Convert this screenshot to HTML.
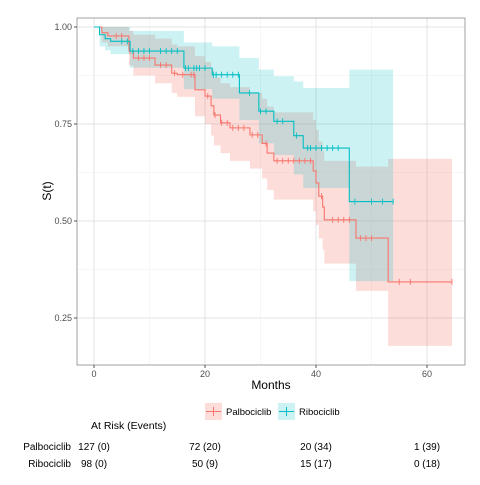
<!DOCTYPE html>
<html><head><meta charset="utf-8"><style>
body{margin:0;background:#fff;font-family:"Liberation Sans",sans-serif}
svg text{font-family:"Liberation Sans",sans-serif}
</style></head><body>
<svg id="c" width="480" height="480" viewBox="0 0 480 480"></svg>
<script>
const redT=[0,1.4,2.5,6.3,7.1,11,14,15,18.2,20,21.1,21.6,22.8,24.5,28.1,30.3,31.2,32.4,39.5,40,40.5,41.2,41.5,47.2,53];
const redS=[1,0.985,0.977,0.938,0.92,0.902,0.881,0.877,0.838,0.822,0.797,0.773,0.753,0.74,0.722,0.7,0.675,0.655,0.629,0.598,0.564,0.536,0.503,0.456,0.343];
const redU=[1,1,1,0.99,0.98,0.97,0.955,0.95,0.925,0.91,0.89,0.87,0.855,0.845,0.83,0.815,0.795,0.78,0.76,0.735,0.705,0.68,0.655,0.64,0.66];
const redL=[1,0.96,0.95,0.9,0.875,0.855,0.83,0.82,0.77,0.75,0.72,0.695,0.675,0.655,0.635,0.61,0.58,0.555,0.525,0.49,0.455,0.425,0.39,0.32,0.178];
const redEnd=64.5;
const redCens=[4,5,6.5,8,9,10,12,13,14.5,16,17.5,18,20.5,21.8,23,24,25,26,27,28.5,29.5,31,33,34,35,36,37,38,39,41,43,44,45,46,48,49,50,55,57,64.5];
const tealT=[0,1,2,3,6.5,16.2,21.3,26.2,29.7,32.4,36,37.7,46];
const tealS=[1,0.98,0.97,0.963,0.938,0.894,0.877,0.83,0.783,0.757,0.72,0.688,0.55];
const tealU=[1,1,1,1,0.99,0.96,0.95,0.92,0.89,0.873,0.86,0.843,0.89];
const tealL=[1,0.95,0.94,0.93,0.895,0.84,0.815,0.76,0.7,0.67,0.62,0.585,0.345];
const tealEnd=53.9;
const tealCens=[5,6,7,8,9,10,12,13,14,15,16.5,17,18,18.5,19,20,21.5,22,23,24,25,26,28,30,31,33,34,36.5,38.5,39,40,41,42,43,44,47,50,52,53.9];
const xTicks=[0,20,40,60];
const yTicks=[0.25,0.5,0.75,1.0];
const yTickLabels=["0.25","0.50","0.75","1.00"];
const riskTimes=[0,20,40,60];
const palbRisk=["127 (0)","72 (20)","20 (34)","1 (39)"];
const riboRisk=["98 (0)","50 (9)","15 (17)","0 (18)"];

const NS="http://www.w3.org/2000/svg";
const svg=document.getElementById('c');
const X=m=>94+m*5.55;
const Y=s=>27+(1-s)*388;
function el(tag,attrs,parent){const e=document.createElementNS(NS,tag);for(const k in attrs)e.setAttribute(k,attrs[k]);(parent||svg).appendChild(e);return e;}
const P={x0:77,x1:465,y0:18,y1:365};
[10,30,50].forEach(m=>{const l=el('line',{x1:X(m),x2:X(m),y1:P.y0,y2:P.y1,stroke:'#f0f0f0','stroke-width':0.6});
});
[0.375,0.625,0.875].forEach(s=>{const l=el('line',{x1:P.x0,x2:P.x1,y1:Y(s),y2:Y(s),stroke:'#f0f0f0','stroke-width':0.6});
});
xTicks.forEach(m=>{const l=el('line',{x1:X(m),x2:X(m),y1:P.y0,y2:P.y1,stroke:'#e3e3e3','stroke-width':1});
});
yTicks.forEach(s=>{const l=el('line',{x1:P.x0,x2:P.x1,y1:Y(s),y2:Y(s),stroke:'#e3e3e3','stroke-width':1});
});
function stepPath(T,V,end){let d='M'+X(T[0])+','+Y(V[0]);for(let i=1;i<T.length;i++){d+='H'+X(T[i])+'V'+Y(V[i]);}d+='H'+X(end);return d;}
function band(T,U,L,end,color,op,name){
 let d='M'+X(T[0])+','+Y(U[0]);for(let i=1;i<T.length;i++)d+='H'+X(T[i])+'V'+Y(U[i]);d+='H'+X(end)+'V'+Y(L[L.length-1]);
 for(let i=T.length-1;i>0;i--)d+='H'+X(T[i])+'V'+Y(L[i-1]);d+='H'+X(T[0])+'Z';
 const p=el('path',{d:d,fill:color,'fill-opacity':op,stroke:'none'});
 }
band(redT,redU,redL,redEnd,'#F8766D',0.25,'palbociclib-ci-band');
band(tealT,tealU,tealL,tealEnd,'#00BFC4',0.2,'ribociclib-ci-band');
function sAt(T,V,t){let v=V[0];for(let i=0;i<T.length;i++)if(T[i]<=t)v=V[i];return v;}
function curve(T,V,end,cens,color,name){
 const p=el('path',{d:stepPath(T,V,end),fill:'none',stroke:color,'stroke-width':1.1});
 
 cens.forEach(t=>{const y=Y(sAt(T,V,t));const c=el('line',{x1:X(t),x2:X(t),y1:y-3,y2:y+3,stroke:color,'stroke-width':0.9});
 });}
curve(redT,redS,redEnd,redCens,'#F8766D','palbociclib');
curve(tealT,tealS,tealEnd,tealCens,'#00BFC4','ribociclib');
const b=el('rect',{x:P.x0,y:P.y0,width:P.x1-P.x0,height:P.y1-P.y0,fill:'none',stroke:'#8a8a8a','stroke-width':0.8});

xTicks.forEach(m=>{const t=el('line',{x1:X(m),x2:X(m),y1:P.y1,y2:P.y1+3,stroke:'#555'});
 const l=el('text',{x:X(m),y:P.y1+12,'font-size':9,'text-anchor':'middle',fill:'#4d4d4d'});l.textContent=m;});
yTicks.forEach((s,i)=>{const t=el('line',{x1:P.x0-3,x2:P.x0,y1:Y(s),y2:Y(s),stroke:'#555'});
 const l=el('text',{x:P.x0-5,y:Y(s)+3,'font-size':9,'text-anchor':'end',fill:'#4d4d4d'});l.textContent=yTickLabels[i];});
riskTimes.forEach((m,i)=>{
 const a=el('text',{x:X(m),y:450,'font-size':10,'text-anchor':'middle',fill:'#000'});a.textContent=palbRisk[i];
 const c=el('text',{x:X(m),y:467,'font-size':10,'text-anchor':'middle',fill:'#000'});c.textContent=riboRisk[i];});
</script>
<svg width="480" height="480" style="position:absolute;left:0;top:0">
<text x="271" y="389" font-size="12" text-anchor="middle">Months</text>
<text x="0" y="0" font-size="12" text-anchor="middle" transform="translate(51,191) rotate(-90)">S(t)</text>
<g>
<rect x="205" y="403" width="17" height="17" fill="#F8766D" fill-opacity="0.25"/>
<line x1="206" x2="221" y1="411.5" y2="411.5" stroke="#F8766D"/><line x1="213.5" x2="213.5" y1="407" y2="416" stroke="#F8766D"/>
<text x="226" y="415" font-size="9.5">Palbociclib</text></g>
<g>
<rect x="278" y="403" width="17" height="17" fill="#00BFC4" fill-opacity="0.2"/>
<line x1="279" x2="294" y1="411.5" y2="411.5" stroke="#00BFC4"/><line x1="286.5" x2="286.5" y1="407" y2="416" stroke="#00BFC4"/>
<text x="299" y="415" font-size="9.5">Ribociclib</text></g>
<text x="91" y="429" font-size="10.5">At Risk (Events)</text>
<text x="71" y="450" font-size="10" text-anchor="end">Palbociclib</text>
<text x="71" y="467" font-size="10" text-anchor="end">Ribociclib</text>
</svg>
</body></html>
